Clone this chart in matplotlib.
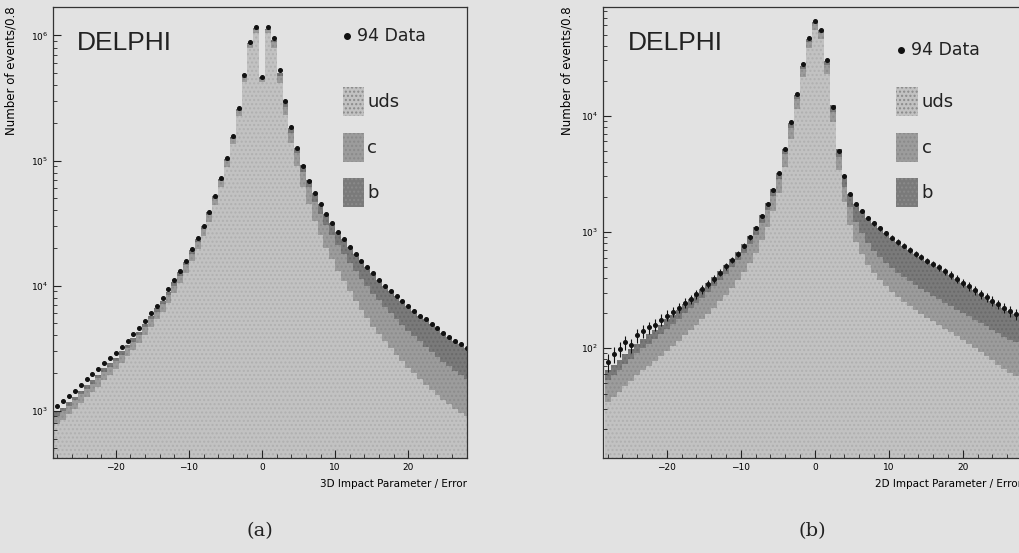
import numpy as np
import matplotlib
matplotlib.use("Agg")
import matplotlib.pyplot as plt

# bins of width 0.8, centred on -28 ... 28
edges = np.linspace(-28.4, 28.4, 72)
centers = 0.5 * (edges[1:] + edges[:-1])

# ---- (a) 3D impact parameter / error ----
data_a = [1100, 1200, 1320, 1450, 1620, 1780, 1950, 2140, 2400, 2630,
          2880, 3240, 3630, 4070, 4570, 5250, 6030, 6920, 7940, 9330,
          11000, 13200, 15800, 19500, 24000, 30200, 38900, 52500, 72400, 105000,
          158000, 263000, 479000, 891000, 1170000, 468000, 1170000, 955000, 525000, 302000,
          186000, 126000, 91200, 69200, 55000, 44700, 37200, 31600, 26900, 23400,
          20400, 17800, 15800, 14100, 12600, 11200, 10000, 9120, 8320, 7590,
          6920, 6310, 5750, 5370, 4900, 4570, 4170, 3890, 3630, 3390, 3160]
uds_a = [780, 850, 940, 1040, 1160, 1280, 1410, 1560, 1760, 1940,
         2140, 2420, 2730, 3080, 3480, 4020, 4650, 5370, 6200, 7330,
         8700, 10500, 12700, 15800, 19600, 24900, 32300, 44000, 61200, 89600,
         136000, 229000, 421000, 793000, 1050000, 425000, 1040000, 800000, 420000, 230000,
         137000, 90000, 62000, 45000, 33000, 25500, 20000, 16200, 13000, 10800,
         9000, 7600, 6400, 5500, 4700, 4100, 3600, 3150, 2800, 2500,
         2200, 2000, 1800, 1620, 1470, 1340, 1230, 1130, 1040, 960, 900]
c_a = [130, 145, 160, 175, 195, 215, 235, 255, 290, 315,
       345, 390, 435, 490, 550, 630, 720, 830, 950, 1120,
       1300, 1550, 1850, 2250, 2700, 3300, 4100, 5300, 6900, 9200,
       13000, 20000, 33000, 55000, 65000, 25000, 70000, 80000, 55000, 40000,
       30000, 24000, 19500, 16500, 14000, 12000, 10400, 9100, 8000, 7000,
       6200, 5500, 4900, 4400, 3950, 3550, 3200, 2900, 2620, 2380,
       2160, 1960, 1780, 1620, 1480, 1350, 1240, 1140, 1050, 970, 900]
b_a = [60, 65, 70, 80, 90, 100, 110, 120, 135, 150,
       165, 185, 205, 230, 260, 300, 340, 390, 450, 530,
       620, 740, 880, 1080, 1330, 1650, 2100, 2800, 3700, 4800,
       6500, 9000, 14000, 20000, 22000, 12000, 25000, 35000, 30000, 24000,
       16000, 12500, 10500, 9000, 8000, 7200, 6800, 6300, 5900, 5600,
       5200, 4700, 4500, 4200, 3950, 3550, 3200, 3070, 2900, 2710,
       2560, 2350, 2170, 2130, 1950, 1880, 1700, 1620, 1540, 1460, 1360]

# ---- (b) 2D impact parameter / error ----
data_b = [75, 88, 98, 112, 105, 128, 140, 150, 158, 175,
          190, 205, 222, 245, 262, 290, 320, 355, 395, 445,
          505, 570, 650, 760, 900, 1080, 1380, 1750, 2300, 3200,
          5200, 8800, 15500, 28000, 47000, 66000, 55000, 30000, 12000, 5000,
          3000, 2100, 1750, 1500, 1320, 1180, 1070, 970, 890, 820,
          760, 700, 650, 605, 565, 530, 495, 460, 425, 395,
          365, 340, 315, 292, 272, 255, 238, 222, 208, 196, 185]
uds_b = [34, 38, 42, 47, 52, 58, 64, 70, 77, 85,
         94, 104, 115, 128, 142, 158, 176, 197, 222, 252,
         288, 330, 382, 450, 540, 660, 850, 1100, 1500, 2150,
         3600, 6300, 11500, 21500, 38000, 55000, 46000, 23000, 8800, 3400,
         1800, 1150, 820, 640, 520, 440, 385, 340, 305, 275,
         250, 230, 212, 196, 182, 169, 157, 146, 136, 126,
         117, 108, 100, 92, 85, 78, 72, 66, 61, 57, 53]
c_b = [19, 21, 23, 26, 29, 32, 35, 39, 43, 47,
       52, 57, 63, 70, 77, 86, 95, 106, 118, 132,
       148, 166, 186, 212, 245, 285, 350, 430, 540, 700,
       1050, 1600, 2500, 3800, 5500, 6500, 5800, 4200, 2000, 1000,
       650, 480, 390, 330, 285, 250, 225, 203, 185, 170,
       157, 146, 136, 127, 119, 112, 105, 99, 93, 88,
       83, 79, 75, 71, 68, 65, 62, 59, 57, 55, 53]
b_b = [11, 12, 13, 15, 16, 18, 20, 22, 24, 27,
       30, 33, 36, 40, 44, 49, 54, 60, 66, 74,
       83, 93, 105, 120, 138, 160, 195, 240, 300, 380,
       520, 750, 1100, 1500, 2000, 2500, 2600, 2400, 1500, 800,
       550, 470, 540, 530, 515, 490, 460, 427, 400, 375,
       353, 324, 302, 282, 264, 249, 233, 215, 196, 181,
       165, 153, 140, 129, 119, 112, 104, 97, 90, 84, 79]

bg = "#e2e2e2"
col_uds = "#c2c2c2"
col_c = "#9c9c9c"
col_b = "#7a7a7a"

fig = plt.figure(figsize=(10.19, 5.53), dpi=100, facecolor=bg)


def panel(rect, data, uds, c, b, ylim, xlabel, caption, errs, data_y, ylab_x):
    ax = fig.add_axes(rect, facecolor=bg)
    uds = np.array(uds, float)
    c = np.array(c, float)
    b = np.array(b, float)
    data = np.array(data, float)
    ax.set_yscale("log")
    ax.stairs(uds + c + b, edges, fill=True, baseline=1, color=col_b, hatch="....", edgecolor="#6a6a6a", linewidth=0)
    ax.stairs(uds + c, edges, fill=True, baseline=1, color=col_c, hatch="....", edgecolor="#8c8c8c", linewidth=0)
    ax.stairs(uds, edges, fill=True, baseline=1, color=col_uds, hatch="....", edgecolor="#b0b0b0", linewidth=0)
    if errs:
        ax.errorbar(centers, data, yerr=np.sqrt(data) * 1.5, fmt="o", color="#111111",
                    ms=2.6, elinewidth=0.8, capsize=0)
    else:
        ax.plot(centers, data, "o", color="#111111", ms=2.6)
    ax.set_xlim(-28.6, 28.0)
    ax.set_ylim(*ylim)
    ax.tick_params(which="both", direction="in", labelsize=6.5, color="#222222")
    ax.tick_params(which="major", length=6)
    ax.tick_params(which="minor", length=3)
    ax.set_xticks([-20, -10, 0, 10, 20])
    ax.set_xticks(np.arange(-28, 29, 2), minor=True)
    for s in ax.spines.values():
        s.set_color("#333333")
        s.set_linewidth(0.9)
    ax.set_ylabel("Number of events/0.8", fontsize=8.5, ha="right")
    ax.yaxis.set_label_coords(ylab_x, 1.0)
    ax.set_xlabel(xlabel, fontsize=7.5, loc="right", labelpad=5)
    ax.text(0.058, 0.92, "DELPHI", transform=ax.transAxes, fontsize=19,
            family="Liberation Sans", color="#222222", va="center")
    # legend
    lx = 0.70
    ax.plot([lx + 0.01], [data_y], "o", transform=ax.transAxes, color="#111111", ms=4)
    ax.text(lx + 0.035, data_y, "94 Data", transform=ax.transAxes, fontsize=12.5, va="center", color="#222222")
    for yy, col, lab in [(0.789, col_uds, "uds"), (0.687, col_c, "c"), (0.588, col_b, "b")]:
        ax.add_patch(plt.Rectangle((lx, yy - 0.032), 0.052, 0.064, transform=ax.transAxes,
                                   facecolor=col, hatch="....", edgecolor="#8a8a8a", linewidth=0))
        ax.text(lx + 0.06, yy, lab, transform=ax.transAxes, fontsize=13, va="center", color="#222222")
    fig.text(rect[0] + rect[2] * 0.5, 0.04, caption, family="DejaVu Serif", fontsize=14,
             ha="center", va="center", color="#222222")
    return ax


panel([0.052, 0.172, 0.406, 0.816], data_a, uds_a, c_a, b_a, (420, 1.7e6),
      "3D Impact Parameter / Error", "(a)", False, 0.935, -0.085)
panel([0.592, 0.172, 0.411, 0.816], data_b, uds_b, c_b, b_b, (11.3, 8.7e4),
      "2D Impact Parameter / Error", "(b)", True, 0.905, -0.07)

fig.savefig("out.png", dpi=100, facecolor=bg)
